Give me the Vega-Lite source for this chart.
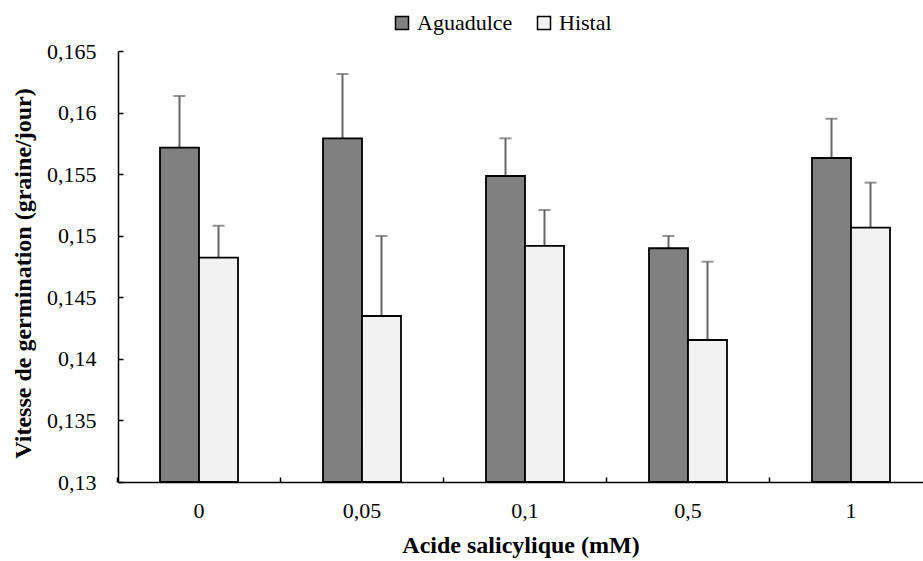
{
  "$schema": "https://vega.github.io/schema/vega-lite/v6.json",
  "autosize": {"type": "none"},
  "padding": {"left": 118, "top": 51, "right": 0, "bottom": 79},
  "width": 805,
  "height": 431,
  "config": {
    "locale": {"number": {"decimal": ",", "thousands": " ", "grouping": [3], "currency": ["", " €"]}},
    "view": {"stroke": null},
    "font": "Liberation Serif",
    "axis": {"grid": false, "domainColor": "black", "domainWidth": 1.5, "tickColor": "black", "tickWidth": 1.5,
             "labelFont": "Liberation Serif", "labelFontSize": 22, "labelColor": "black",
             "titleFont": "Liberation Serif", "titleFontSize": 24, "titleFontWeight": "bold", "titleColor": "black"}
  },
  "data": {"values": [
    {"dose": "0", "cultivar": "Aguadulce", "value": 0.15715, "hi": 0.16135},
    {"dose": "0", "cultivar": "Histal", "value": 0.14822, "hi": 0.15081},
    {"dose": "0,05", "cultivar": "Aguadulce", "value": 0.15791, "hi": 0.16313},
    {"dose": "0,05", "cultivar": "Histal", "value": 0.14348, "hi": 0.14998},
    {"dose": "0,1", "cultivar": "Aguadulce", "value": 0.15485, "hi": 0.15791},
    {"dose": "0,1", "cultivar": "Histal", "value": 0.14917, "hi": 0.15209},
    {"dose": "0,5", "cultivar": "Aguadulce", "value": 0.14898, "hi": 0.14998},
    {"dose": "0,5", "cultivar": "Histal", "value": 0.14153, "hi": 0.14789},
    {"dose": "1", "cultivar": "Aguadulce", "value": 0.15631, "hi": 0.1595},
    {"dose": "1", "cultivar": "Histal", "value": 0.15065, "hi": 0.15431}
  ]},
  "encoding": {
    "x": {"field": "dose", "type": "nominal", "sort": ["0", "0,05", "0,1", "0,5", "1"],
          "scale": {"paddingInner": 0.5215, "paddingOuter": 0.2301, "align": 0.56},
          "axis": {"title": "Acide salicylique (mM)", "labelAngle": 0, "bandPosition": -0.545, "tickSize": -5,
                   "labelPadding": 23, "titleY": 51, "titleBaseline": "top"}},
    "xOffset": {"field": "cultivar", "type": "nominal", "sort": ["Aguadulce", "Histal"]}
  },
  "layer": [
    {
      "mark": {"type": "rule", "color": "#666666", "strokeWidth": 2},
      "encoding": {
        "y": {"field": "value", "type": "quantitative"},
        "y2": {"field": "hi"}
      }
    },
    {
      "mark": {"type": "tick", "color": "#666666", "thickness": 2, "size": 12},
      "encoding": {
        "y": {"field": "hi", "type": "quantitative"}
      }
    },
    {
      "mark": {"type": "bar", "stroke": "black", "strokeWidth": 1.8},
      "encoding": {
        "y": {"field": "value", "type": "quantitative",
              "scale": {"domain": [0.13, 0.165], "nice": false, "zero": false},
              "axis": {"title": "Vitesse de germination (graine/jour)",
                       "values": [0.13, 0.135, 0.14, 0.145, 0.15, 0.155, 0.16, 0.165],
                       "format": ".3~f", "tickSize": -5, "labelPadding": 27, "titleX": -83, "titleY": 222}},
        "y2": {"datum": 0.13},
        "fill": {"field": "cultivar", "type": "nominal",
                 "scale": {"domain": ["Aguadulce", "Histal"], "range": ["#808080", "#f2f2f2"]},
                 "legend": {"title": null, "orient": "none", "direction": "horizontal",
                            "legendX": 273, "legendY": -39, "symbolType": "square", "symbolSize": 169,
                            "symbolStrokeColor": "black", "symbolStrokeWidth": 1.5, "symbolOffset": 0,
                            "labelFont": "Liberation Serif", "labelFontSize": 22, "labelColor": "black",
                            "labelOffset": 4, "columnPadding": 20}}
      }
    }
  ]
}
